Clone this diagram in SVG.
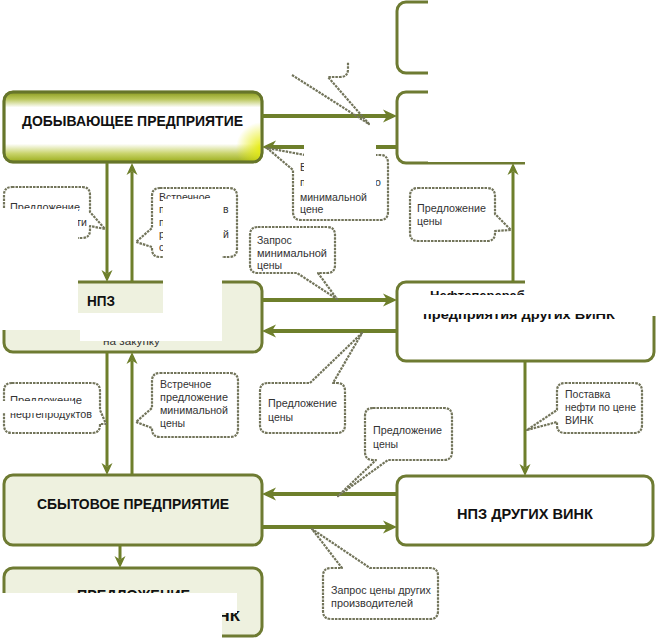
<svg xmlns="http://www.w3.org/2000/svg" width="657" height="638" viewBox="0 0 657 638">
<style>
.node{stroke:#6e7b32;stroke-width:3}
.lt{fill:#eef1df}
.wh{fill:#ffffff}
.cn{fill:none;stroke:#6e7f2b;stroke-width:4}
.cv{fill:none;stroke:#6e7f2b;stroke-width:3}
.co{fill:#ffffff;stroke:#72745a;stroke-width:2.2;stroke-dasharray:2.5 1;stroke-linejoin:round}
.cof{fill:none;stroke:#72745a;stroke-width:2.2;stroke-dasharray:2.5 1;stroke-linejoin:round}
.t{font-family:"Liberation Sans",Arial,sans-serif;font-size:10.5px;fill:#333333}
.b{font-family:"Liberation Sans",Arial,sans-serif;font-size:15px;font-weight:bold;fill:#111}
.b13{font-family:"Liberation Sans",Arial,sans-serif;font-size:13px;font-weight:bold;fill:#111}
</style>
<defs>
<marker id="ah" markerUnits="userSpaceOnUse" markerWidth="14" markerHeight="14" viewBox="0 0 14 14" refX="4" refY="7" orient="auto">
<path d="M0,0.5 L14,7 L0,13.5 L4,7 Z" fill="#6e7f2b"/>
</marker>
<marker id="ahs" markerUnits="userSpaceOnUse" markerWidth="12" markerHeight="12" viewBox="0 0 12 12" refX="3.5" refY="6" orient="auto">
<path d="M0,0.5 L12,6 L0,11.5 L3.5,6 Z" fill="#6e7f2b"/>
</marker>
<linearGradient id="gDob" x1="0" y1="0" x2="0" y2="1">
<stop offset="0" stop-color="#8a9a1e"/>
<stop offset="0.1" stop-color="#b9c65a"/>
<stop offset="0.22" stop-color="#ffffff"/>
<stop offset="0.74" stop-color="#ffffff"/>
<stop offset="0.88" stop-color="#c8d36a"/>
<stop offset="1" stop-color="#9aad1a"/>
</linearGradient>
<radialGradient id="gY" gradientUnits="userSpaceOnUse" cx="262" cy="148" r="26">
<stop offset="0" stop-color="#e6ec00" stop-opacity="0.95"/>
<stop offset="1" stop-color="#e6ec00" stop-opacity="0"/>
</radialGradient>
<clipPath id="vis"><path clip-rule="evenodd" d="M0,0 H657 V638 H0 Z M304,140 H376 V193 H304 Z M0,209 H78 V313 H0 Z M163,199 H222 V313 H163 Z M0,313 H222 V330 H0 Z M80,330 H222 V341 H80 Z M525,268 H657 V295 H525 Z M403,295 H657 V314 H403 Z M620,314 H657 V316 H620 Z M428,0 H657 V162 H428 Z M525,162 H657 V166 H525 Z M0,593 H222 V638 H0 Z M222,593 H237 V613 H222 Z M0,401 H74 V413 H0 Z"/></clipPath>
</defs>
<rect x="0" y="0" width="657" height="638" fill="#ffffff"/>
<g clip-path="url(#vis)">
<g id="node-dobyvayushchee">
<rect class="node" x="4" y="92" width="258" height="70" rx="9" fill="url(#gDob)"/>
<rect x="5.5" y="93.5" width="255" height="67" rx="8" fill="url(#gY)"/>
<rect x="4" y="92" width="258" height="70" rx="9" fill="none" stroke="#66752a" stroke-width="2.5"/>
<text class="b" x="22" y="126" textLength="221" lengthAdjust="spacingAndGlyphs">ДОБЫВАЮЩЕЕ ПРЕДПРИЯТИЕ</text>
</g>
<g id="node-top-right-1">
<rect class="node wh" x="397" y="2" width="258" height="71" rx="9"/>
</g>
<g id="node-top-right-2">
<rect class="node wh" x="397" y="92" width="258" height="71" rx="9"/>
</g>
<g id="node-npz">
<rect class="node lt" x="4" y="282" width="258" height="70" rx="9"/>
<text class="b" x="87" y="306" textLength="28" lengthAdjust="spacingAndGlyphs">НПЗ</text>
<text class="t" x="103" y="345" textLength="57" lengthAdjust="spacingAndGlyphs">на закупку</text>
</g>
<g id="node-neftepererab">
<rect class="node wh" x="397" y="282" width="257" height="79" rx="9"/>
<text class="b13" x="430" y="300">Нефтеперерабатывающие</text>
<text class="b13" x="423" y="319" textLength="192" lengthAdjust="spacingAndGlyphs">предприятия других ВИНК</text>
</g>
<g id="node-sbytovoe">
<rect class="node lt" x="4" y="475" width="258" height="70" rx="9"/>
<text class="b" x="37" y="509" textLength="192" lengthAdjust="spacingAndGlyphs">СБЫТОВОЕ ПРЕДПРИЯТИЕ</text>
</g>
<g id="node-npz-drugih">
<rect class="node wh" x="397" y="476" width="256" height="69" rx="9"/>
<text class="b" x="457" y="519" textLength="136" lengthAdjust="spacingAndGlyphs">НПЗ ДРУГИХ ВИНК</text>
</g>
<g id="node-predlozhenie">
<rect class="node lt" x="4" y="568" width="258" height="68" rx="9"/>
<text class="b" x="77" y="600" textLength="113" lengthAdjust="spacingAndGlyphs">ПРЕДЛОЖЕНИЕ</text>
<text class="b" x="26" y="621" textLength="214" lengthAdjust="spacingAndGlyphs">НЕФТЕПРОДУКТОВ ВИНК</text>
</g>
<g id="connectors">
<path class="cn" d="M262,116 H387" marker-end="url(#ah)"/>
<path class="cn" d="M397,147 H272" marker-end="url(#ah)"/>
<path class="cv" d="M107,163 V273.5" marker-end="url(#ahs)"/>
<path class="cv" d="M132,282 V171.5" marker-end="url(#ahs)"/>
<path class="cn" d="M262,300 H387" marker-end="url(#ah)"/>
<path class="cn" d="M397,331 H272" marker-end="url(#ah)"/>
<path class="cv" d="M513,282 V171.5" marker-end="url(#ahs)"/>
<path class="cv" d="M107,352 V466.5" marker-end="url(#ahs)"/>
<path class="cv" d="M132,475 V360.5" marker-end="url(#ahs)"/>
<path class="cv" d="M525,361 V467.5" marker-end="url(#ahs)"/>
<path class="cn" d="M397,494 H272" marker-end="url(#ah)"/>
<path class="cn" d="M262,527 H387" marker-end="url(#ah)"/>
<path class="cv" d="M120,545 V559.5" marker-end="url(#ahs)"/>
</g>
<g id="callout-1">
<path class="co" d="M12,187 H82 Q90,187 90,195 V212 L105,229 L90,226 V230 Q90,238 82,238 H12 Q4,238 4,230 V195 Q4,187 12,187 Z"/>
<text class="t" x="10" y="211" textLength="70" lengthAdjust="spacingAndGlyphs">Предложение</text>
<text class="t" x="87" y="226" text-anchor="end">нефти</text>
</g>
<g id="callout-2">
<path class="co" d="M160,188 H229 Q237,188 237,196 V249 Q237,257 229,257 H160 Q152,257 152,249 V247 L136,242 L152,228 V196 Q152,188 160,188 Z"/>
<text class="t" x="159" y="201">Встречное</text>
<text class="t" x="159" y="213">п</text>
<text class="t" x="223" y="213">в</text>
<text class="t" x="159" y="226">п</text>
<text class="t" x="159" y="238">р</text>
<text class="t" x="223" y="238">й</text>
<text class="t" x="159" y="251">с</text>
</g>
<g id="callout-3">
<path class="co" d="M305,155 H380 Q388,155 388,163 V212 Q388,220 380,220 H301 Q293,220 293,212 V170 L267,148 Z"/>
<text class="t" x="300" y="171">Встречное</text>
<text class="t" x="300" y="186" textLength="81" lengthAdjust="spacingAndGlyphs">предложение по</text>
<text class="t" x="300" y="201" textLength="67" lengthAdjust="spacingAndGlyphs">минимальной</text>
<text class="t" x="300" y="213">цене</text>
</g>
<g id="callout-4">
<path class="cof" d="M292,75 L369,124 L328,77 H340 Q348,77 348,69 V62"/>
</g>
<g id="callout-5">
<path class="co" d="M418,188 H487 Q495,188 495,196 V214 L511,230 L495,231 V233 Q495,241 487,241 H418 Q410,241 410,233 V196 Q410,188 418,188 Z"/>
<text class="t" x="417" y="212" textLength="69" lengthAdjust="spacingAndGlyphs">Предложение</text>
<text class="t" x="417" y="225">цены</text>
</g>
<g id="callout-6">
<path class="co" d="M258,227 H327 Q335,227 335,235 V265 Q335,273 327,273 H318 L337,299 L297,273 H258 Q250,273 250,265 V235 Q250,227 258,227 Z"/>
<text class="t" x="257" y="244">Запрос</text>
<text class="t" x="257" y="257" textLength="70" lengthAdjust="spacingAndGlyphs">минимальной</text>
<text class="t" x="257" y="269">цены</text>
</g>
<g id="callout-7">
<path class="co" d="M268,383 H310 L362,333 L333,383 H337 Q345,383 345,391 V425 Q345,433 337,433 H268 Q260,433 260,425 V391 Q260,383 268,383 Z"/>
<text class="t" x="268" y="407" textLength="69" lengthAdjust="spacingAndGlyphs">Предложение</text>
<text class="t" x="268" y="421">цены</text>
</g>
<g id="callout-8">
<path class="co" d="M12,383 H92 Q100,383 100,391 V410 L106,424 L100,424 V425 Q100,433 92,433 H12 Q4,433 4,425 V391 Q4,383 12,383 Z"/>
<text class="t" x="10" y="404" textLength="72" lengthAdjust="spacingAndGlyphs">Предложение</text>
<text class="t" x="10" y="418" textLength="82" lengthAdjust="spacingAndGlyphs">нефтепродуктов</text>
</g>
<g id="callout-9">
<path class="co" d="M160,373 H230 Q238,373 238,381 V429 Q238,437 230,437 H160 Q152,437 152,429 V428 L136,422 L152,408 V381 Q152,373 160,373 Z"/>
<text class="t" x="160" y="388">Встречное</text>
<text class="t" x="160" y="401" textLength="68" lengthAdjust="spacingAndGlyphs">предложение</text>
<text class="t" x="160" y="414" textLength="68" lengthAdjust="spacingAndGlyphs">минимальной</text>
<text class="t" x="160" y="427">цены</text>
</g>
<g id="callout-10">
<path class="co" d="M565,383 H634 Q642,383 642,391 V425 Q642,433 634,433 H565 Q557,433 557,425 V422 L527,430 L557,410 V391 Q557,383 565,383 Z"/>
<text class="t" x="565" y="398">Поставка</text>
<text class="t" x="565" y="411" textLength="71" lengthAdjust="spacingAndGlyphs">нефти по цене</text>
<text class="t" x="565" y="424">ВИНК</text>
</g>
<g id="callout-11">
<path class="co" d="M373,408 H444 Q452,408 452,416 V452 Q452,460 444,460 H388 L338,496 L376,460 H373 Q365,460 365,452 V416 Q365,408 373,408 Z"/>
<text class="t" x="373" y="434" textLength="69" lengthAdjust="spacingAndGlyphs">Предложение</text>
<text class="t" x="373" y="448">цены</text>
</g>
<g id="callout-12">
<path class="co" d="M331,568 H342 L312,529 L370,568 H430 Q438,568 438,576 V611 Q438,619 430,619 H331 Q323,619 323,611 V576 Q323,568 331,568 Z"/>
<text class="t" x="331" y="594" textLength="100" lengthAdjust="spacingAndGlyphs">Запрос цены других</text>
<text class="t" x="331" y="607" textLength="82" lengthAdjust="spacingAndGlyphs">производителей</text>
</g>
</g>
</svg>
